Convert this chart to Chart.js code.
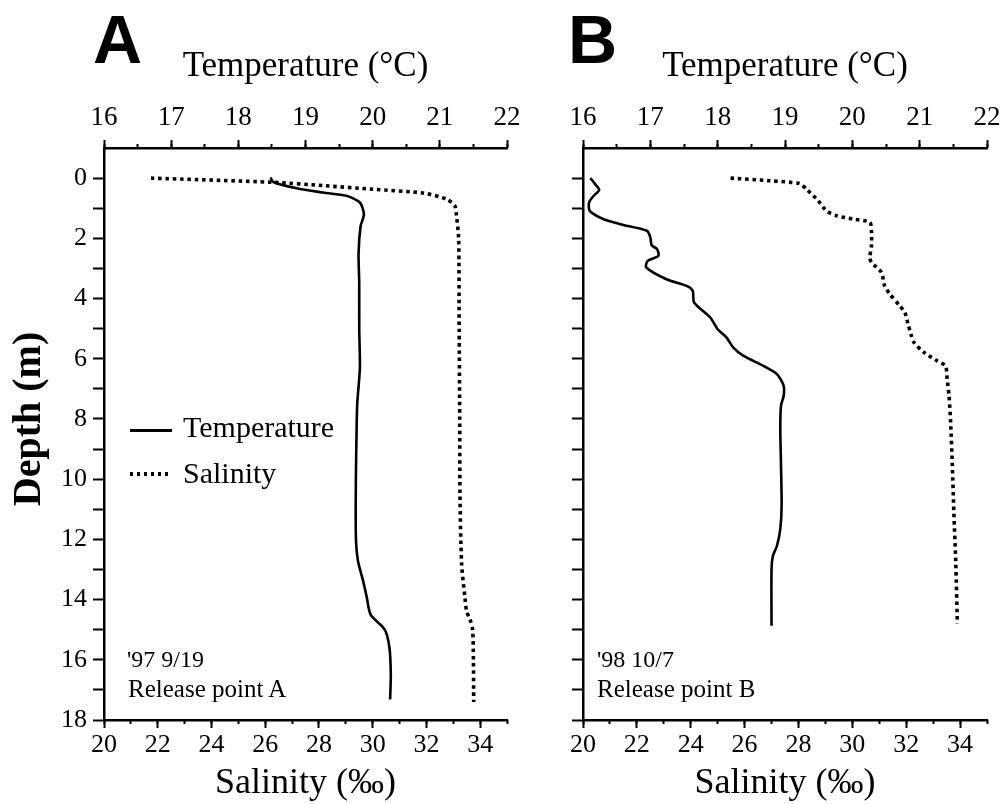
<!DOCTYPE html>
<html>
<head>
<meta charset="utf-8">
<title>Temperature and salinity profiles</title>
<script src="https://cdn.jsdelivr.net/npm/chart.js@4.4.1/dist/chart.umd.min.js"></script>
<style>
  html, body { margin: 0; padding: 0; background: #fff; }
  #wrap { position: relative; width: 1005px; height: 804px; overflow: hidden; font-family: 'Liberation Serif', 'Times New Roman', serif; color: #000; }
  canvas { position: absolute; top: 0; }
  #chartA { left: 0; }
  #chartB { left: 520px; }
  .panel { position: absolute; top: 5px; font-family: 'Liberation Sans', Arial, sans-serif; font-weight: bold; font-size: 68px; line-height: 68px; }
  .note { position: absolute; font-size: 24px; line-height: 24px; white-space: nowrap; }
  .note.big { font-size: 25px; line-height: 25px; }
  .key { position: absolute; left: 183px; font-size: 30px; line-height: 30px; white-space: nowrap; }
  .swatch { position: absolute; left: 130px; }
</style>
</head>
<body>
<div id="wrap">
  <canvas id="chartA" width="560" height="804"></canvas>
  <canvas id="chartB" width="540" height="804"></canvas>

  <div class="panel" style="left:93px;">A</div>
  <div class="panel" style="left:568px;">B</div>

  <!-- legend of panel A -->
  <div class="swatch" style="top:429px;width:42px;height:2.5px;background:#000;"></div>
  <div class="key" style="top:412px;">Temperature</div>
  <div class="swatch" style="top:472px;width:40px;height:3.5px;background:repeating-linear-gradient(90deg,#000 0 3.5px,transparent 3.5px 7px);"></div>
  <div class="key" style="top:458px;">Salinity</div>

  <div class="note" style="left:127px;top:647px;">'97 9/19</div>
  <div class="note big" style="left:128px;top:676px;">Release point A</div>
  <div class="note" style="left:597px;top:647px;">'98 10/7</div>
  <div class="note big" style="left:597px;top:676px;">Release point B</div>
</div>

<script>
// Release point A, '97 9/19
const depthTempA = [-0.02, 0.13, 0.34, 0.48, 0.59, 0.81, 1.2, 1.6, 2.5, 3.5, 5.0, 6.3, 7.5, 8.5, 10.0, 11.9, 12.7, 13.4, 13.9, 14.5, 15.0, 15.6, 16.5, 17.32];
const tempA      = [18.48, 18.52, 18.87, 19.26, 19.61, 19.81, 19.87, 19.82, 19.79, 19.8, 19.8, 19.81, 19.77, 19.76, 19.75, 19.75, 19.78, 19.86, 19.91, 19.97, 20.18, 20.25, 20.27, 20.26];
const depthSalA  = [0, 0.14, 0.25, 0.37, 0.5, 0.7, 0.92, 1.25, 2.0, 5.0, 8.0, 10.5, 12.8, 13.9, 14.4, 14.65, 15.0, 16.0, 17.4];
const salA       = [21.75, 26.3, 28.16, 30.0, 31.9, 32.75, 33.06, 33.12, 33.2, 33.22, 33.24, 33.25, 33.31, 33.43, 33.5, 33.62, 33.72, 33.75, 33.76];

// Release point B, '98 10/7
const depthTempB = [0.0, 0.2, 0.39, 0.61, 0.81, 1.09, 1.36, 1.53, 1.75, 1.97, 2.23, 2.36, 2.58, 2.75, 2.97, 3.36, 3.58, 3.74, 4.13, 4.63, 5.02, 5.29, 5.62, 5.9, 6.24, 6.51, 6.9, 7.23, 7.57, 8.34, 9.45, 10.89, 11.66, 12.22, 12.55, 12.99, 14.87];
const tempB      = [16.11, 16.18, 16.24, 16.15, 16.09, 16.1, 16.3, 16.55, 16.95, 17.0, 17.02, 17.1, 17.12, 16.96, 16.94, 17.24, 17.54, 17.63, 17.65, 17.89, 18.0, 18.13, 18.23, 18.38, 18.68, 18.88, 18.98, 18.98, 18.94, 18.93, 18.94, 18.95, 18.93, 18.88, 18.82, 18.8, 18.8];
const depthSalB  = [0, 0.09, 0.18, 0.37, 0.75, 1.09, 1.25, 1.36, 1.47, 1.75, 2.25, 2.63, 2.8, 3.13, 3.58, 3.85, 4.24, 4.46, 4.85, 5.2, 5.46, 5.79, 6.07, 6.24, 6.68, 7.23, 8.12, 9.45, 11.11, 12.77, 14.8];
const salB       = [25.48, 26.94, 28.03, 28.3, 28.73, 29.04, 29.41, 30.03, 30.65, 30.71, 30.71, 30.65, 30.71, 31.08, 31.2, 31.39, 31.76, 31.95, 32.07, 32.18, 32.29, 32.66, 33.15, 33.46, 33.52, 33.59, 33.65, 33.71, 33.77, 33.84, 33.9];

// axis ranges
const tempRange  = [16, 22];
const salRange   = [20, 35];
const depthRange = [-1, 18];

Chart.defaults.font.family = "'Liberation Serif', 'Times New Roman', serif";
Chart.defaults.color = '#000';

function toPoints(xs, ys) {
  return xs.map((x, i) => ({ x: x, y: ys[i] }));
}

// one panel: temperature on the top axis, salinity on the bottom, depth downwards
function panelConfig(temps, tempDepths, sals, salDepths, withDepthLabels, yWidth, padRight) {
  const tick = { drawOnChartArea: false, tickWidth: 2, tickColor: '#000' };
  return {
    type: 'scatter',
    data: {
      datasets: [{
        label: 'Temperature',
        data: toPoints(temps, tempDepths),
        xAxisID: 'xT', yAxisID: 'y',
        showLine: true, pointRadius: 0,
        borderColor: '#000', borderWidth: 2.6, tension: 0.25
      }, {
        label: 'Salinity',
        data: toPoints(sals, salDepths),
        xAxisID: 'xS', yAxisID: 'y',
        showLine: true, pointRadius: 0,
        borderColor: '#000', borderWidth: 3.6, borderDash: [3.5, 3.8], borderCapStyle: 'butt', tension: 0.25
      }]
    },
    options: {
      responsive: false,
      animation: false,
      layout: { padding: { left: 0, right: padRight, top: 0, bottom: 0 } },
      plugins: { legend: { display: false }, tooltip: { enabled: false } },
      scales: {
        xT: {
          type: 'linear', axis: 'x', position: 'top', weight: 1,
          min: tempRange[0], max: tempRange[1],
          afterFit: s => { s.height = 148; },
          border: { color: '#000', width: 2.5 },
          grid: Object.assign({ tickLength: 8 }, tick),
          ticks: { stepSize: 1, autoSkip: false, maxRotation: 0, padding: 9, font: { size: 27, lineHeight: 1 } },
          title: { display: true, text: 'Temperature (°C)', font: { size: 35, lineHeight: 1 }, padding: { top: 49, bottom: 0 } }
        },
        xTminor: {
          type: 'linear', axis: 'x', position: 'top', weight: 0,
          min: tempRange[0], max: tempRange[1],
          afterFit: s => { s.height = 0; },
          border: { display: false },
          grid: Object.assign({ tickLength: 4 }, tick),
          ticks: { stepSize: 0.5, display: false }
        },
        xS: {
          type: 'linear', axis: 'x', position: 'bottom', weight: 1,
          min: salRange[0], max: salRange[1],
          afterFit: s => { s.height = 84; },
          border: { color: '#000', width: 2.5 },
          grid: Object.assign({ tickLength: 8 }, tick),
          ticks: { stepSize: 2, includeBounds: false, autoSkip: false, maxRotation: 0, padding: 4, font: { size: 26, lineHeight: 1 } },
          title: { display: true, text: 'Salinity (‰)', font: { size: 36, lineHeight: 1 }, padding: { top: 0, bottom: 2 } }
        },
        xSminor: {
          type: 'linear', axis: 'x', position: 'bottom', weight: 0,
          min: salRange[0], max: salRange[1],
          afterFit: s => { s.height = 0; },
          border: { display: false },
          grid: Object.assign({ tickLength: 4 }, tick),
          ticks: { stepSize: 1, display: false }
        },
        y: {
          type: 'linear', axis: 'y', position: 'left', reverse: true,
          min: depthRange[0], max: depthRange[1],
          afterFit: s => { s.width = yWidth; },
          border: { color: '#000', width: 2.5 },
          grid: Object.assign({ tickLength: 11 }, tick),
          ticks: {
            stepSize: 1, autoSkip: false, padding: 6, font: { size: 26, lineHeight: 1 },
            callback: v => {
              if (v === depthRange[0]) return null;
              if (!withDepthLabels || v % 2 !== 0) return '';
              return String(v);
            }
          },
          // leading spaces lift the centred title to where the original sits
          title: { display: withDepthLabels, text: '   Depth (m)', font: { size: 40, weight: 'bold', lineHeight: 1 }, padding: { top: 10, bottom: 0 } }
        }
      }
    }
  };
}

const chartA = new Chart(
  document.getElementById('chartA'),
  panelConfig(tempA, depthTempA, salA, depthSalA, true, 104, 53)
);

// canvas B runs past the page edge so the last tick label never squeezes the plot
const chartB = new Chart(
  document.getElementById('chartB'),
  panelConfig(tempB, depthTempB, salB, depthSalB, false, 63, 73)
);
</script>
</body>
</html>
